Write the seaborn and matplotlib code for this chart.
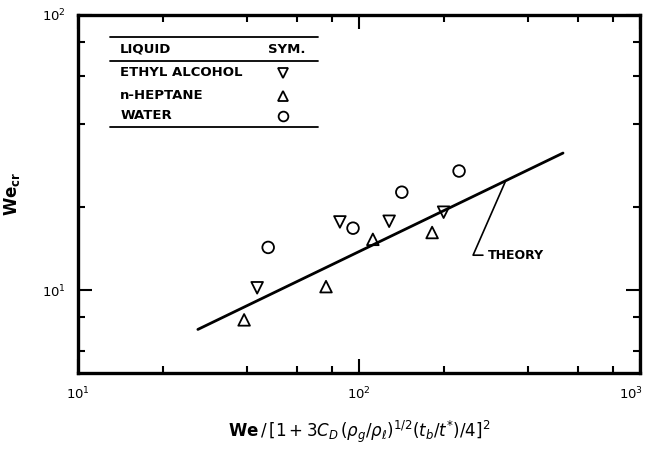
import matplotlib
matplotlib.use('Agg')
import matplotlib.pyplot as plt
import matplotlib.transforms as mtransforms
import pandas as pd
import seaborn as sns

# values (log-log axes)
alcohol_x = [43.4, 85.5, 128, 200]
alcohol_y = [10.2, 17.7, 17.8, 19.2]
heptane_x = [39.0, 76.3, 112, 182]
heptane_y = [7.8, 10.3, 15.3, 16.2]
water_x = [47.5, 95.2, 142, 227]
water_y = [14.3, 16.8, 22.7, 27.1]

theory_x = [26.7, 532]
theory_y = [7.2, 31.5]
# leader from the theory line to the label
leader_x = [331, 254.6, 276]
leader_y = [24.7, 13.4, 13.4]

liquids = ['ETHYL ALCOHOL', 'n-HEPTANE', 'WATER']
symbols = {'ETHYL ALCOHOL': 'v', 'n-HEPTANE': '^', 'WATER': 'o'}

df = pd.DataFrame({
    'x': alcohol_x + heptane_x + water_x,
    'y': alcohol_y + heptane_y + water_y,
    'liquid': [liquids[0]] * 4 + [liquids[1]] * 4 + [liquids[2]] * 4,
})

sns.set_style('ticks')
plt.rcParams['font.family'] = ['DejaVu Sans']
plt.rcParams['mathtext.fontset'] = 'dejavusans'
plt.rcParams['text.color'] = 'black'
plt.rcParams['axes.labelcolor'] = 'black'
plt.rcParams['xtick.color'] = 'black'
plt.rcParams['ytick.color'] = 'black'

fig = plt.figure(figsize=(6.48, 4.53), dpi=100)
ax = fig.add_axes([0.1204, 0.1766, 0.8673, 0.7903])

sns.lineplot(x=theory_x, y=theory_y, color='black', linewidth=2, ax=ax)
sns.scatterplot(data=df, x='x', y='y', style='liquid', markers=symbols,
                facecolors='none', edgecolor='black', linewidth=1.3, s=70,
                legend=False, ax=ax)
ax.plot(leader_x, leader_y, color='black', linewidth=1.2)
ax.text(288, 13.4, 'THEORY', fontsize=9, fontweight='bold', va='center')

ax.set_xscale('log')
ax.set_yscale('log')
ax.set_xlim(10, 1000)
ax.set_ylim(5, 100)
ax.xaxis.set_minor_locator(matplotlib.ticker.LogLocator(base=10, subs=[2, 4, 6, 8]))
ax.yaxis.set_minor_locator(matplotlib.ticker.LogLocator(base=10, subs=[2, 4, 6, 8]))
ax.xaxis.set_minor_formatter(matplotlib.ticker.NullFormatter())
ax.yaxis.set_minor_formatter(matplotlib.ticker.NullFormatter())
ax.tick_params(which='both', direction='in', top=True, right=True, color='black', width=1.5)
ax.tick_params(which='major', length=10, labelsize=9.5, pad=9)
ax.tick_params(which='minor', length=5)
for sp in ax.spines.values():
    sp.set_linewidth(2.4)
    sp.set_color('black')

# the 10^3 label sits just inside the figure edge in the original
fig.canvas.draw()
for lab in ax.get_xticklabels():
    if lab.get_position()[0] >= 999:
        lab.set_transform(lab.get_transform() + mtransforms.ScaledTranslation(-0.09, 0, fig.dpi_scale_trans))

ax.set_xlabel(r'$\mathbf{We}\,/\,[1+3C_D\,(\rho_g/\rho_\ell)^{1/2}(t_b/t^{*})/4]^2$',
              fontsize=12, labelpad=12)
ax.set_ylabel(r'$\mathbf{We}_{\mathbf{cr}}$', fontsize=12, labelpad=14)

# table style legend
for yy in [0.9385, 0.8715, 0.687]:
    ax.plot([0.057, 0.427], [yy, yy], color='black', linewidth=1.3, transform=ax.transAxes)
ax.text(0.075, 0.905, 'LIQUID', transform=ax.transAxes, fontsize=9.5, fontweight='bold', va='center')
ax.text(0.338, 0.905, 'SYM.', transform=ax.transAxes, fontsize=9.5, fontweight='bold', va='center')
for name, yy in zip(liquids, [0.838, 0.774, 0.718]):
    ax.text(0.075, yy, name, transform=ax.transAxes, fontsize=9.5, fontweight='bold', va='center')
    ax.plot([0.365], [yy], marker=symbols[name], markersize=7, markerfacecolor='none',
            markeredgecolor='black', markeredgewidth=1.3, transform=ax.transAxes)

fig.savefig('out.png', dpi=100)
